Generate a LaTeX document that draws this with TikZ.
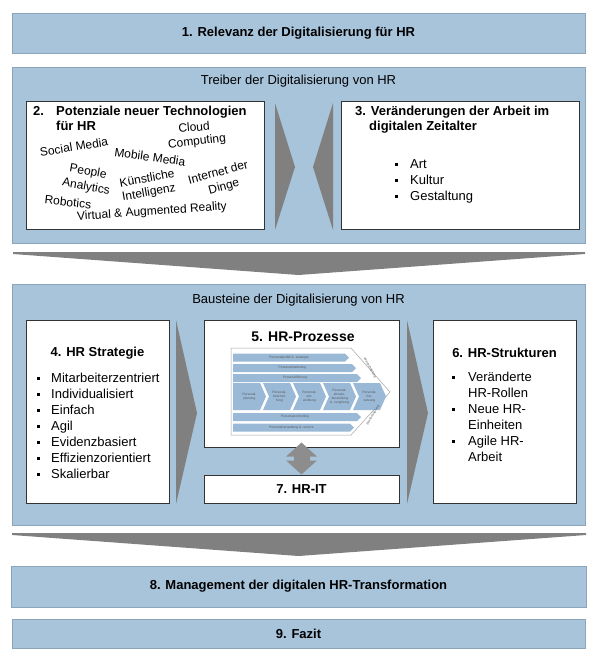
\documentclass[tikz,border=0pt]{standalone}
\usepackage{fontspec}
\setmainfont{Liberation Sans}
\usepackage{tikz}
\usetikzlibrary{arrows.meta, positioning, calc}
\definecolor{PanelBlue}{HTML}{A8C4DB}
\definecolor{PanelEdge}{HTML}{8DA5BA}
\definecolor{ArrowGrey}{HTML}{808080}
\definecolor{ProcBlue}{HTML}{9AB9D6}

\begin{document}
\begin{tikzpicture}[x=1pt, y=-1pt,
  every node/.style={font=\fontsize{13}{15}\selectfont, inner sep=0pt},
  panel/.style={draw=PanelEdge, fill=PanelBlue, line width=1pt},
  card/.style={draw=black!80, fill=white, line width=1pt},
  head/.style={font=\fontsize{13}{14.5}\selectfont\bfseries},
  word/.style={font=\fontsize{12}{14}\selectfont},
  item/.style={anchor=base west},
  proc/.style={font=\fontsize{3.3}{3.9}\selectfont, text=black!65, align=center},
  chev/.style={fill=ArrowGrey}]

  \useasboundingbox (0,0) rectangle (597,657);

  \node[panel, minimum width=573pt, minimum height=40pt, head] (relevanz) at (298.5,33) {1. Relevanz der Digitalisierung für HR};

  \node[panel, minimum width=573pt, minimum height=176pt] (treiber) at (298.5,155) {};
  \node[below=8pt of treiber.north] (treibertitle) {Treiber der Digitalisierung von HR};

  \node[card, minimum width=238pt, minimum height=128pt] (potenziale) at (145,165) {};
  \node[head, anchor=north west, align=left] (potitle) at (33,106) {\makebox[23pt][l]{2.}Potenziale neuer Technologien\\\hspace*{23pt}für HR};
  \node[word, rotate=5] (cloud) at (194,127) {Cloud};
  \node[word, rotate=7] (computing) at (197,142) {Computing};
  \node[word, rotate=9] (social) at (74,147) {Social Media};
  \node[word, rotate=-8] (mobile) at (150,157) {Mobile Media};
  \node[word, rotate=-10] (people) at (88,172) {People};
  \node[word, rotate=-10] (analytics) at (86,187) {Analytics};
  \node[word, rotate=10] (kuenstlich) at (147,178) {Künstliche};
  \node[word, rotate=10] (intelligenz) at (149,193) {Intelligenz};
  \node[word, rotate=15] (internet) at (218,172) {Internet der};
  \node[word, rotate=15] (dinge) at (224,187) {Dinge};
  \node[word, rotate=-6] (robotics) at (68,202) {Robotics};
  \node[word, rotate=4] (virtual) at (152,212) {Virtual \& Augmented Reality};

  \node[card, minimum width=238pt, minimum height=128pt] (arbeit) at (460,165) {};
  \node[head, anchor=north west, align=left] (artitle) at (355,106) {3. Veränderungen der Arbeit im\\\hspace*{14pt}digitalen Zeitalter};
  \foreach \txt [count=\i] in {Art, Kultur, Gestaltung} {
    \node[item] (wandel\i) at (410,{152+16*\i}) {\txt};
    \fill ($(wandel\i.base west)+(-15,-5.5)$) rectangle +(3,3);
  }

  \fill[chev] (275,103) -- (295,167) -- (275,230) -- cycle;
  \fill[chev] (333,103) -- (313,167) -- (333,230) -- cycle;

  \fill[chev] (13,252) -- (585,252) -- (585,254) -- (298.5,275) -- (13,254) -- cycle;

  \node[panel, minimum width=573pt, minimum height=241pt] (bausteine) at (298.5,404.5) {};
  \node[below=10pt of bausteine.north] (bausteinetitle) {Bausteine der Digitalisierung von HR};

  \node[card, minimum width=143pt, minimum height=183pt] (strategie) at (97.5,411.5) {};
  \node[head] (strattitle) at (97.5,353) {4. HR Strategie};
  \foreach \txt [count=\i] in {Mitarbeiterzentriert, Individualisiert, Einfach, Agil, Evidenzbasiert, Effizienzorientiert, Skalierbar} {
    \node[item] (strat\i) at (51,{366+16*\i}) {\txt};
    \fill ($(strat\i.base west)+(-14,-5.5)$) rectangle +(3,3);
  }

  \node[card, minimum width=195pt, minimum height=127pt] (prozesse) at (301.5,383.5) {};
  \node[head, font=\fontsize{14}{15}\selectfont\bfseries] (proztitle) at (303,337) {5. HR-Prozesse};
  \draw[black!35, fill=white, line width=0.5pt] (231,348) -- (351,348) -- (390,392) -- (351,435) -- (231,435) -- cycle;
  \foreach \yy/\xe/\lbl [count=\i] in {357.5/345/{Personalpolitik \& -strategie}, 368/352/Personalmarketing, 378/357/Personalführung, 417/357/Personalcontrolling, 427.5/350/{Personalverwaltung \& -service}} {
    \fill[ProcBlue] (233,\yy-4) -- (\xe,\yy-4) -- (\xe+4,\yy) -- (\xe,\yy+4) -- (233,\yy+4) -- cycle;
    \node[proc] (bar\i) at ({(233+\xe)/2},\yy) {\lbl};
  }
  \foreach \lbl [count=\i] in {{Personal-\\planung}, {Personal-\\beschaf-\\fung}, {Personal-\\ent-\\wicklung}, {Personal-\\einsatz,\\-beurteilung\\\& -vergütung}, {Personal-\\frei-\\setzung}} {
    \pgfmathsetmacro\xl{233+30*(\i-1)}
    \pgfmathsetmacro\nt{\i>1 ? 6 : 0}
    \fill[ProcBlue] (\xl,383) -- (\xl+27,383) -- (\xl+33,396.5) -- (\xl+27,410) -- (\xl,410) -- (\xl+\nt,396.5) -- cycle;
    \node[proc] (phase\i) at (\xl+16.5,396.5) {\lbl};
  }
  \node[proc, rotate=-60] (wertoben) at (370,368) {Wertschöpfung};
  \node[proc, rotate=60] (wertunten) at (373,415) {Wertschöpfung};

  \node[card, minimum width=195pt, minimum height=28pt, head] (hrit) at (301.5,489) {7. HR-IT};
  \draw[ArrowGrey!90!white, line width=16pt, {Triangle[length=14pt,width=30pt]}-{Triangle[length=14pt,width=30pt]}] ($(prozesse.south)+(0,-5)$) -- (hrit.north);

  \node[card, minimum width=143pt, minimum height=183pt] (strukturen) at (504.5,411.5) {};
  \node[head] (struktitle) at (504.5,353) {6. HR-Strukturen};
  \foreach \txt/\bul [count=\i] in {Veränderte/1, HR-Rollen/0, Neue HR-/1, Einheiten/0, Agile HR-/1, Arbeit/0} {
    \node[item] (struk\i) at (468,{365+16*\i}) {\txt};
    \ifnum\bul=1 \fill ($(struk\i.base west)+(-16,-5.5)$) rectangle +(3,3); \fi
  }

  \fill[chev] (176,320) -- (197,413) -- (176,504) -- cycle;
  \fill[chev] (407,320) -- (428,413) -- (407,504) -- cycle;

  \fill[chev] (12,533) -- (586,533) -- (586,535) -- (298.5,556) -- (12,535) -- cycle;

  \node[panel, minimum width=575pt, minimum height=41pt, head] (management) at (298.5,586.5) {8. Management der digitalen HR-Transformation};
  \node[panel, minimum width=573pt, minimum height=29pt, head] (fazit) at (298.5,633.5) {9. Fazit};
\end{tikzpicture}
\end{document}
